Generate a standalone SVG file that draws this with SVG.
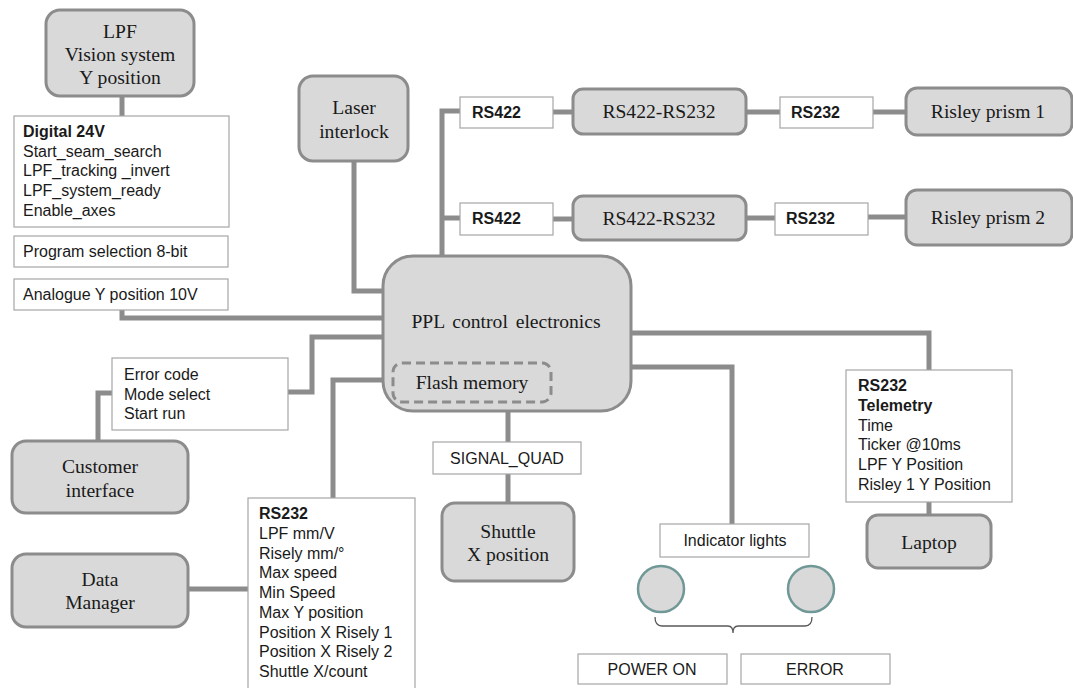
<svg xmlns="http://www.w3.org/2000/svg" width="1073" height="688" viewBox="0 0 1073 688">
  <style>
    .node { fill: #d9d9d9; stroke: #8c8c8c; stroke-width: 3; }
    .box { fill: #ffffff; stroke: #a6a6a6; stroke-width: 1.2; }
    .wire { fill: none; stroke: #8c8c8c; stroke-width: 5; }
    .serif { font-family: "Liberation Serif", "Times New Roman", serif; font-size: 19.6px; fill: #1a1a1a; text-anchor: middle; }
    .sans { font-family: "Liberation Sans", Arial, sans-serif; font-size: 16px; fill: #1a1a1a; }
    .bold { font-weight: bold; }
    .mid { text-anchor: middle; }
    .lamp { fill: #d9d9d9; stroke: #6f9896; stroke-width: 2.5; }
  </style>
  <rect width="1073" height="688" fill="#ffffff"/>

  <!-- connectors -->
  <g id="connectors">
    <path class="wire" d="M122 97 V116"/>
    <path class="wire" d="M122 310 V318 H383"/>
    <path class="wire" d="M354 161 V291 H383"/>
    <path class="wire" d="M442 256 V111 H460"/>
    <path class="wire" d="M442 218 H460"/>
    <path class="wire" d="M553 112 H573"/>
    <path class="wire" d="M553 219 H573"/>
    <path class="wire" d="M746 112 H780"/>
    <path class="wire" d="M746 218 H775"/>
    <path class="wire" d="M873 112 H905"/>
    <path class="wire" d="M868 217 H905"/>
    <path class="wire" d="M288 392 H312 V337 H383"/>
    <path class="wire" d="M112 393 H98 V441"/>
    <path class="wire" d="M383 380 H333 V498"/>
    <path class="wire" d="M188 589 H248"/>
    <path class="wire" d="M508 410 V442"/>
    <path class="wire" d="M508 474 V503"/>
    <path class="wire" d="M631 333 H929 V370"/>
    <path class="wire" d="M631 367 H732 V524"/>
    <path class="wire" d="M929 502 V515"/>
  </g>

  <g id="lpf-vision">
    <rect class="node" x="46" y="10" width="148" height="86" rx="14"/>
    <text class="serif" x="120" y="38">LPF</text>
    <text class="serif" x="120" y="61">Vision system</text>
    <text class="serif" x="120" y="84">Y position</text>
  </g>

  <g id="digital-24v">
    <rect class="box" x="14" y="116" width="215" height="111"/>
    <text class="sans bold" x="23" y="137">Digital 24V</text>
    <text class="sans" x="23" y="157">Start_seam_search</text>
    <text class="sans" x="23" y="176">LPF_tracking _invert</text>
    <text class="sans" x="23" y="196">LPF_system_ready</text>
    <text class="sans" x="23" y="216">Enable_axes</text>
  </g>

  <g id="program-selection">
    <rect class="box" x="14" y="236" width="214" height="31"/>
    <text class="sans" x="23" y="257">Program selection 8-bit</text>
  </g>

  <g id="analogue-y">
    <rect class="box" x="14" y="279" width="214" height="31"/>
    <text class="sans" x="23" y="300">Analogue Y position 10V</text>
  </g>

  <g id="laser-interlock">
    <rect class="node" x="299" y="76" width="109" height="85" rx="14"/>
    <text class="serif" x="354" y="114">Laser</text>
    <text class="serif" x="354" y="138">interlock</text>
  </g>

  <g id="rs422-1">
    <rect class="box" x="460" y="97" width="93" height="31"/>
    <text class="sans bold" x="472" y="118">RS422</text>
  </g>
  <g id="rs422-2">
    <rect class="box" x="460" y="203" width="93" height="32"/>
    <text class="sans bold" x="472" y="224">RS422</text>
  </g>

  <g id="converter-1">
    <rect class="node" x="573" y="89" width="173" height="45" rx="10"/>
    <text class="serif" x="659" y="118">RS422-RS232</text>
  </g>
  <g id="converter-2">
    <rect class="node" x="573" y="196" width="173" height="44" rx="10"/>
    <text class="serif" x="659" y="225">RS422-RS232</text>
  </g>

  <g id="rs232-1">
    <rect class="box" x="780" y="97" width="93" height="31"/>
    <text class="sans bold" x="791" y="118">RS232</text>
  </g>
  <g id="rs232-2">
    <rect class="box" x="775" y="203" width="93" height="32"/>
    <text class="sans bold" x="786" y="224">RS232</text>
  </g>

  <g id="risley-1">
    <rect class="node" x="906" y="88" width="166" height="47" rx="11"/>
    <text class="serif" x="988" y="118">Risley prism 1</text>
  </g>
  <g id="risley-2">
    <rect class="node" x="906" y="190" width="166" height="55" rx="11"/>
    <text class="serif" x="988" y="224">Risley prism 2</text>
  </g>

  <g id="ppl-control">
    <rect class="node" x="383" y="256" width="248" height="155" rx="30"/>
    <text class="serif" x="506" y="328" word-spacing="3">PPL control electronics</text>
    <rect x="393" y="363" width="158" height="39" rx="9" fill="none" stroke="#8c8c8c" stroke-width="3" stroke-dasharray="9 5"/>
    <text class="serif" x="472" y="389">Flash memory</text>
  </g>

  <g id="customer-signals">
    <rect class="box" x="112" y="358" width="176" height="72"/>
    <text class="sans" x="124" y="380">Error code</text>
    <text class="sans" x="124" y="400">Mode select</text>
    <text class="sans" x="124" y="419">Start run</text>
  </g>

  <g id="customer-interface">
    <rect class="node" x="12" y="441" width="176" height="72" rx="14"/>
    <text class="serif" x="100" y="473">Customer</text>
    <text class="serif" x="100" y="497">interface</text>
  </g>

  <g id="rs232-config">
    <rect class="box" x="248" y="498" width="167" height="200"/>
    <text class="sans bold" x="259" y="519">RS232</text>
    <text class="sans" x="259" y="539">LPF mm/V</text>
    <text class="sans" x="259" y="559">Risely mm/°</text>
    <text class="sans" x="259" y="578">Max speed</text>
    <text class="sans" x="259" y="598">Min Speed</text>
    <text class="sans" x="259" y="618">Max Y position</text>
    <text class="sans" x="259" y="638">Position X Risely 1</text>
    <text class="sans" x="259" y="657">Position X Risely 2</text>
    <text class="sans" x="259" y="677">Shuttle X/count</text>
  </g>

  <g id="data-manager">
    <rect class="node" x="12" y="554" width="176" height="73" rx="14"/>
    <text class="serif" x="100" y="586">Data</text>
    <text class="serif" x="100" y="609">Manager</text>
  </g>

  <g id="signal-quad">
    <rect class="box" x="433" y="442" width="148" height="32"/>
    <text class="sans mid" x="507" y="464">SIGNAL_QUAD</text>
  </g>

  <g id="shuttle">
    <rect class="node" x="442" y="503" width="132" height="78" rx="13"/>
    <text class="serif" x="508" y="538">Shuttle</text>
    <text class="serif" x="508" y="561">X position</text>
  </g>

  <g id="telemetry">
    <rect class="box" x="846" y="370" width="166" height="132"/>
    <text class="sans bold" x="858" y="391">RS232</text>
    <text class="sans bold" x="858" y="411">Telemetry</text>
    <text class="sans" x="858" y="431">Time</text>
    <text class="sans" x="858" y="450">Ticker @10ms</text>
    <text class="sans" x="858" y="470">LPF Y Position</text>
    <text class="sans" x="858" y="490">Risley 1 Y Position</text>
  </g>

  <g id="laptop">
    <rect class="node" x="867" y="515" width="124" height="53" rx="11"/>
    <text class="serif" x="929" y="549">Laptop</text>
  </g>

  <g id="indicator-lights">
    <rect class="box" x="660" y="524" width="149" height="33"/>
    <text class="sans mid" x="735" y="546">Indicator lights</text>
    <circle class="lamp" cx="661" cy="589" r="23"/>
    <circle class="lamp" cx="811" cy="589" r="23"/>
    <path d="M655 617 Q655 626 662 626 H728 Q733 626 733 633 Q733 626 738 626 H805 Q812 626 812 617" fill="none" stroke="#595959" stroke-width="1.3"/>
  </g>

  <g id="power-on">
    <rect class="box" x="578" y="654" width="149" height="30"/>
    <text class="sans mid" x="652" y="675">POWER ON</text>
  </g>
  <g id="error">
    <rect class="box" x="741" y="654" width="149" height="30"/>
    <text class="sans mid" x="815" y="675">ERROR</text>
  </g>
</svg>
